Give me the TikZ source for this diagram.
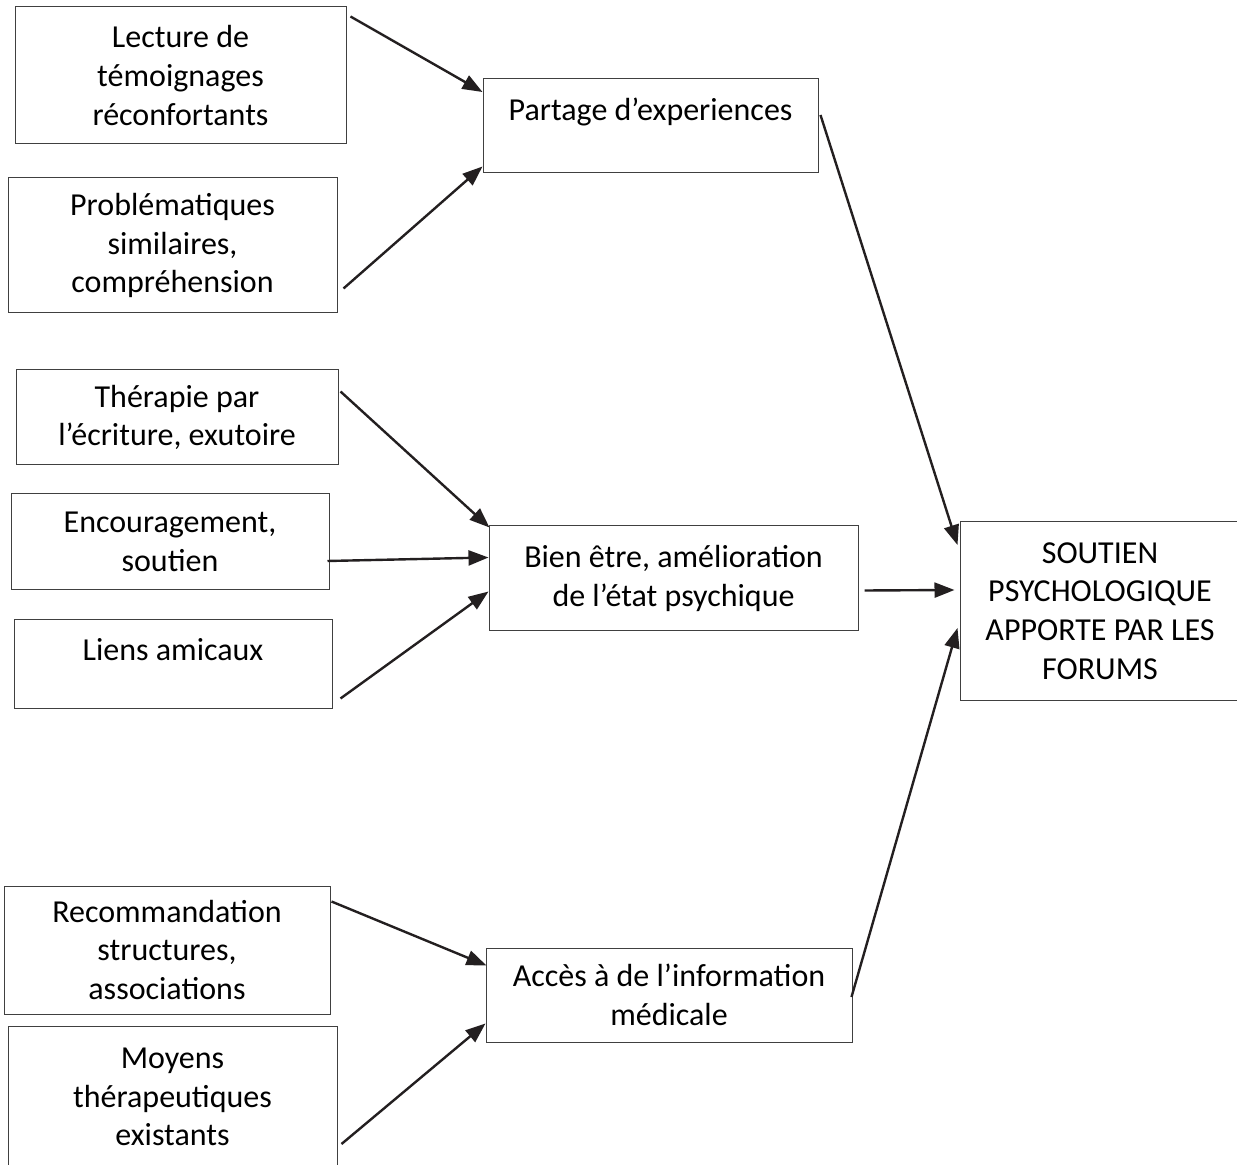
\documentclass[tikz,border=0pt]{standalone}
\usepackage{fontspec}
\setmainfont{Carlito}
\usepackage{xcolor}
\usetikzlibrary{arrows.meta,calc}
\definecolor{inkline}{HTML}{231F20}

\begin{document}
\begin{tikzpicture}[
        x=0.5pt, y=-0.5pt,
        font=\fontsize{16pt}{19.3pt}\selectfont,
        box/.style={
            draw=black!75, line width=0.5pt,
            align=center, inner sep=0pt
        },
        arrow/.style={-{Triangle[length=10pt,width=7.5pt]}, line width=1.2pt, draw=inkline}
    ]
    \useasboundingbox (0,0) rectangle (1237,1165);

    % Left column
    \node[box, minimum width=165.5pt, minimum height=68.5pt] (lecture) at (180.5,75.5) {Lecture de\\témoignages\\réconfortants};
    \node[box, minimum width=164.5pt, minimum height=67.5pt] (probl) at (172.5,245.5) {Problématiques\\similaires,\\compréhension};
    \node[box, minimum width=161pt, minimum height=47.5pt] (therapie) at (177,417.5) {Thérapie par\\l’écriture, exutoire};
    \node[box, minimum width=159pt, minimum height=48pt] (encour) at (170,542) {Encouragement,\\soutien};
    \node[box, minimum width=159pt, minimum height=44pt] (liens) at (173,664) {Liens amicaux\\[-5pt] \mbox{}};
    \node[box, minimum width=163pt, minimum height=64pt] (recomm) at (167,950) {Recommandation\\structures,\\associations};
    \node[box, minimum width=164.5pt, minimum height=71pt] (moyens) at (172.5,1097) {Moyens\\thérapeutiques\\existants};

    % Middle column
    \node[box, minimum width=167.5pt, minimum height=47pt] (partage) at (650.5,126) {Partage d’experiences\\[-3pt] \mbox{}};
    \node[box, minimum width=184.5pt, minimum height=52.5pt] (bien) at (673.5,578.5) {Bien être, amélioration\\de l’état psychique};
    \node[box, minimum width=183pt, minimum height=47pt] (acces) at (669,995) {Accès à de l’information\\médicale};

    % Result
    \node[box, minimum width=140pt, minimum height=89pt] (soutien) at (1100,611) {SOUTIEN\\PSYCHOLOGIQUE\\APPORTE PAR LES\\FORUMS};

    % Arrows
    \draw[arrow] ($(lecture.north east)+(4,10)$) -- ($(partage.west)+(0,-34)$);
    \draw[arrow] ($(probl.south east)+(6,-25)$) -- ($(partage.south west)+(0,-7)$);

    \draw[arrow] ($(therapie.north east)+(2,22)$) -- ($(bien.north west)+(1,2)$);
    \draw[arrow] ($(encour.east)+(-2,19)$) -- ($(bien.west)+(0,-21)$);
    \draw[arrow] ($(liens.south east)+(8,-10)$) -- ($(bien.west)+(0,13)$);

    \draw[arrow] ($(recomm.north east)+(1,16)$) -- ($(acces.north west)+(1,18)$);
    \draw[arrow] ($(moyens.east)+(4,47)$) -- ($(acces.south west)+(0,-19)$);

    \draw[arrow] ($(partage.east)+(2,-11)$) -- ($(soutien.west)+(-2,-66)$);
    \draw[arrow] ($(bien.east)+(6,12)$) -- ($(soutien.west)+(-5,-21)$);
    \draw[arrow] ($(acces.east)+(-1,2)$) -- ($(soutien.west)+(-2,17)$);

\end{tikzpicture}
\end{document}
